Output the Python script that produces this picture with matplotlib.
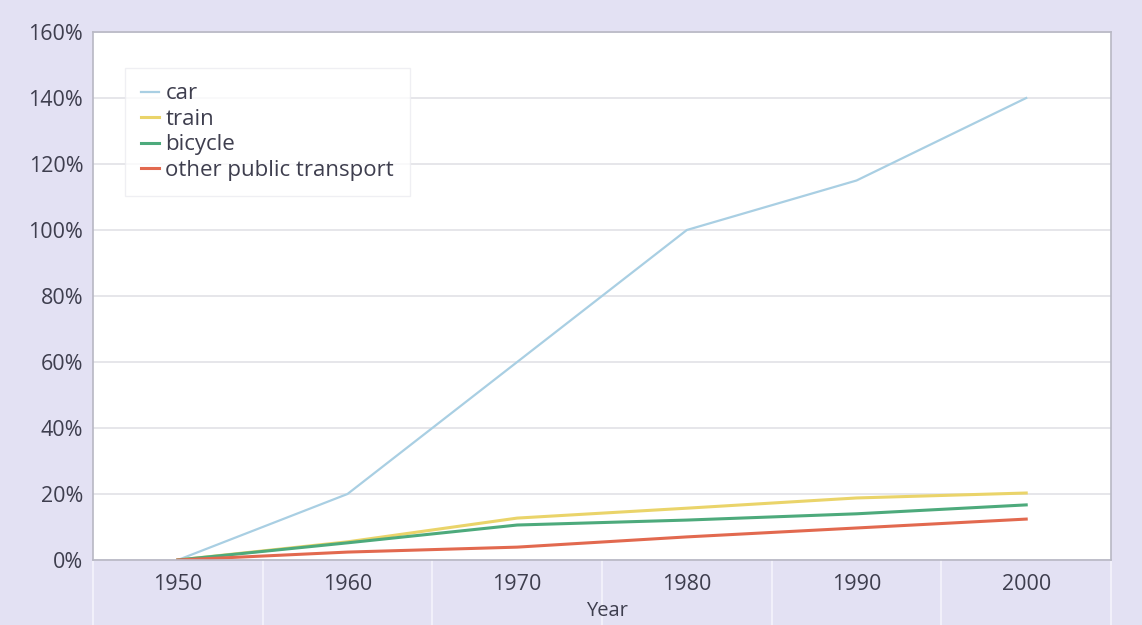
import numpy as np
import matplotlib
matplotlib.use("Agg")
from matplotlib import pyplot as plt
from matplotlib.ticker import FuncFormatter

years = ['1950', '1960', '1970', '1980', '1990', '2000']
car = [0, 20, 60, 100, 115, 140]
train = [0, 5.5, 12.7, 15.7, 18.8, 20.3]
bicycle = [0, 5.2, 10.6, 12.1, 14.0, 16.7]
other = [0, 2.4, 3.9, 7.0, 9.7, 12.4]

series = [('car', car, '#a9cfe3', 1.6),
          ('train', train, '#ead46a', 2.2),
          ('bicycle', bicycle, '#4daa7c', 2.2),
          ('other public transport', other, '#e2694f', 2.2)]

plt.rcParams['font.family'] = ['Open Sans', 'DejaVu Sans']
text_col = '#3e3e4e'
bg = '#e3e1f3'

fig = plt.figure(figsize=(11.42, 6.25), dpi=100, facecolor=bg)
ax = fig.add_axes([0.0814, 0.104, 0.8915, 0.8448])
ax.set_facecolor('white')

x = np.arange(len(years))
for label, vals, color, lw in series:
    ax.plot(x, vals, color=color, linewidth=lw, label=label)

ax.set_xlim(-0.5, len(years) - 0.5)
ax.set_ylim(0, 160)
ax.set_yticks(np.arange(0, 161, 20))
ax.yaxis.set_major_formatter(FuncFormatter(lambda v, p: '%d%%' % v))
ax.set_xticks(x)
ax.set_xticklabels(years)
ax.set_xticks(np.arange(-0.5, len(years)), minor=True)

ax.grid(axis='y', color='#e2e2e6', linewidth=1.2)
ax.set_axisbelow(True)
for s in ax.spines.values():
    s.set_color('#b8b8c4')
    s.set_linewidth(1.2)

ax.tick_params(axis='both', which='major', length=0, labelsize=15.5,
               labelcolor=text_col)
ax.tick_params(axis='x', pad=10)
ax.tick_params(axis='y', pad=7)
ax.tick_params(axis='x', which='minor', length=62, width=1.5, color='#f1f0fa')

ax.set_xlabel('Year', fontsize=14.5, color=text_col)
ax.xaxis.set_label_coords(0.505, -0.078)

leg = ax.legend(loc='upper left', bbox_to_anchor=(0.021, 0.953), fontsize=16,
                frameon=True, fancybox=False, handlelength=0.8,
                handletextpad=0.3, labelspacing=0.2, borderpad=0.7)
leg.get_frame().set_edgecolor('#ececf0')
leg.get_frame().set_linewidth(1.0)
for t in leg.get_texts():
    t.set_color(text_col)

fig.savefig('out.png', dpi=100, facecolor=bg)
